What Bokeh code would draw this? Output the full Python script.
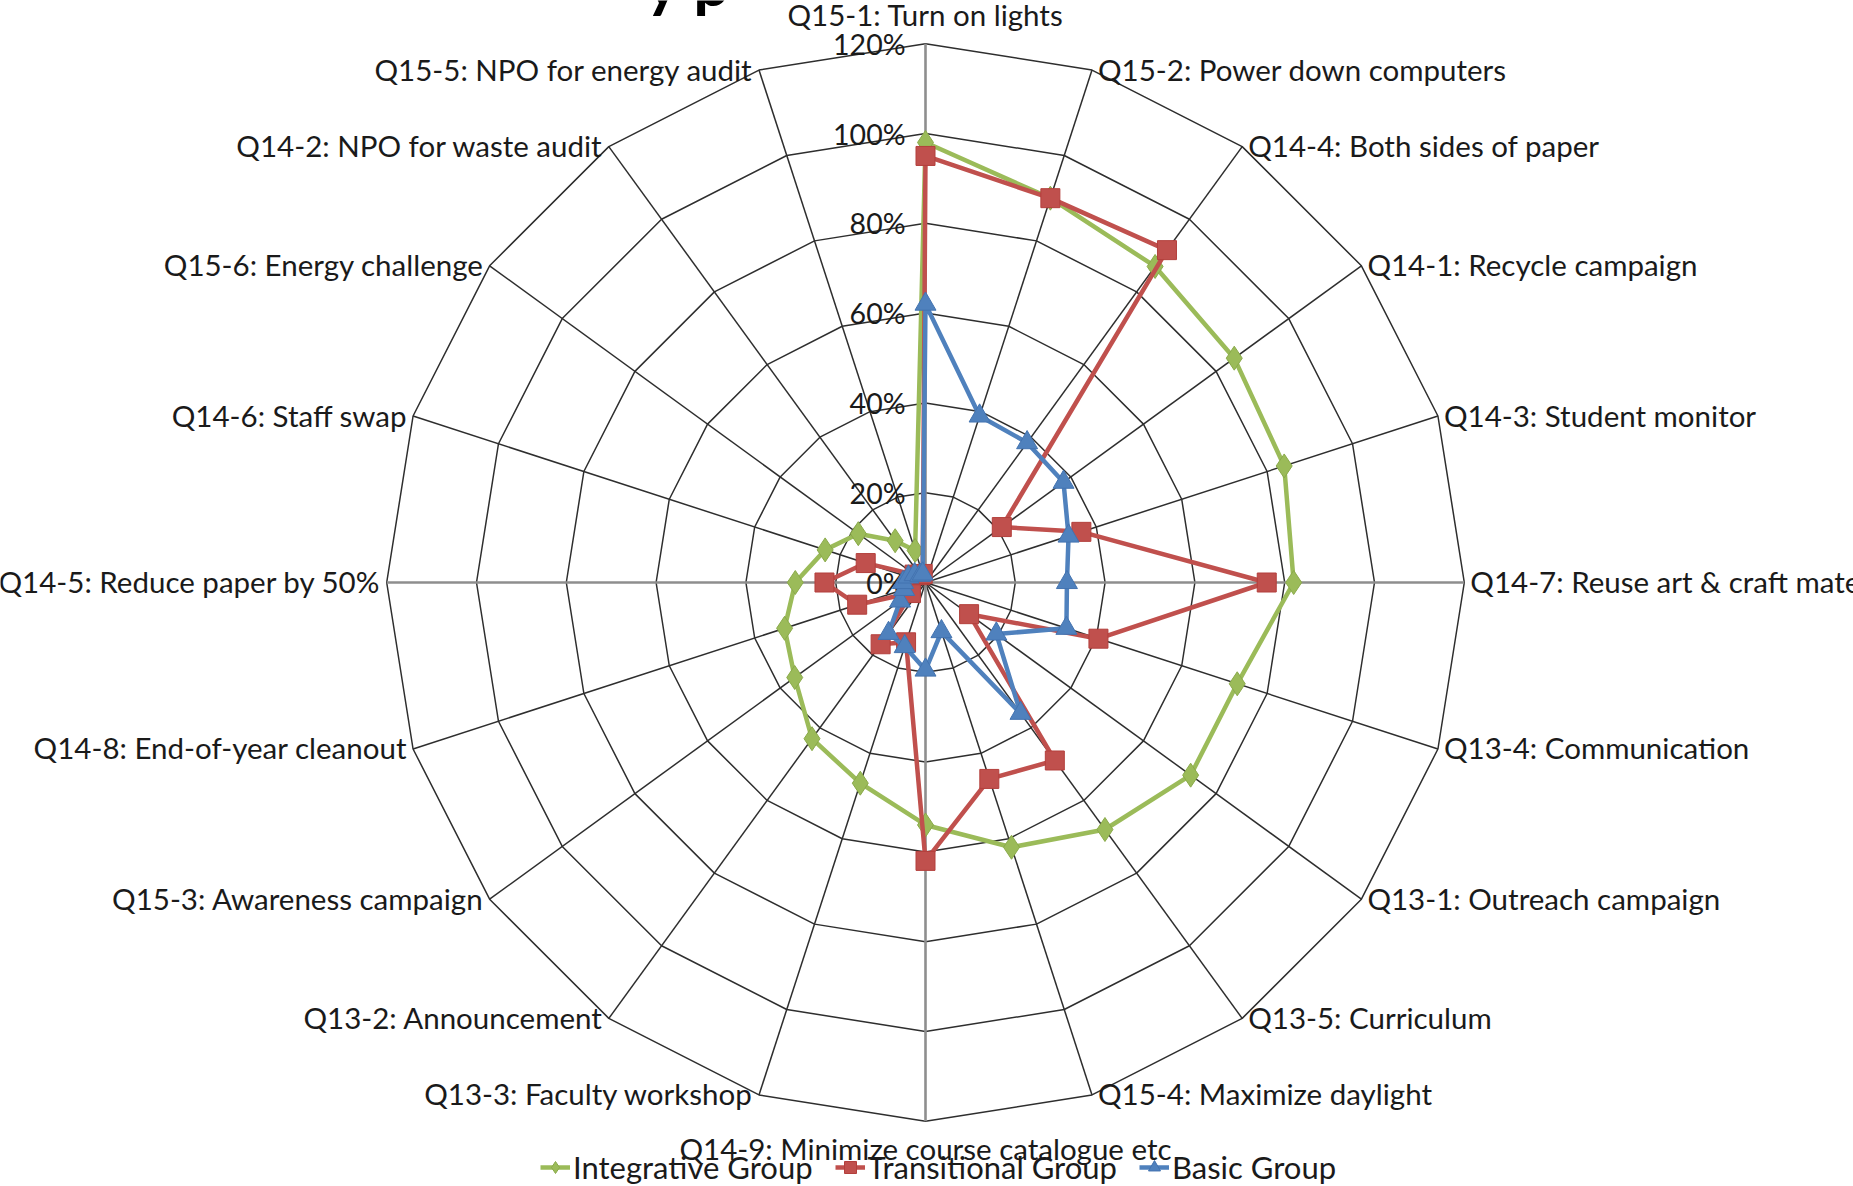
import numpy as np
from bokeh.plotting import figure
from bokeh.models import Range1d, Legend, LegendItem, ColumnDataSource
from bokeh.embed import file_html
from bokeh.resources import INLINE
from bokeh.core.properties import value

# ---------------- data ----------------
categories = [
    "Q15-1: Turn on lights",
    "Q15-2: Power down computers",
    "Q14-4: Both sides of paper",
    "Q14-1: Recycle campaign",
    "Q14-3: Student monitor",
    "Q14-7: Reuse art & craft materials",
    "Q13-4: Communication",
    "Q13-1: Outreach campaign",
    "Q13-5: Curriculum",
    "Q15-4: Maximize daylight",
    "Q14-9: Minimize course catalogue etc",
    "Q13-3: Faculty workshop",
    "Q13-2: Announcement",
    "Q15-3: Awareness campaign",
    "Q14-8: End-of-year cleanout",
    "Q14-5: Reduce paper by 50%",
    "Q14-6: Staff swap",
    "Q15-6: Energy challenge",
    "Q14-2: NPO for waste audit",
    "Q15-5: NPO for energy audit",
]
integrative = [98, 90, 87, 85, 84, 82, 73, 73, 68, 62, 54, 47, 43, 36, 33, 29, 23.5, 18.5, 11.5, 7.5]
transitional = [95, 90, 91.5, 21, 36.5, 76, 40.5, 12, 49, 46, 62, 14, 17, 4, 16, 22.5, 14, 3, 2, 2]
basic = [62, 39, 38.5, 38, 33.5, 31.5, 33, 19.5, 36, 11.5, 19.5, 15, 14, 7, 5, 5, 4, 3, 2, 2]
series_names = ["Integrative Group", "Transitional Group", "Basic Group"]
tick_values = [0, 20, 40, 60, 80, 100, 120]
tick_labels = ["0%", "20%", "40%", "60%", "80%", "100%", "120%"]
title_fragment = "y p"

# ---------------- layout ----------------
W, H = 1853, 1186
CX, CY = 925, 582          # pixel position of the chart centre
PX = 4.49                  # pixels per percentage point
RMAX = 120
FONT = "Lato"
FS_CAT = "29.5px"
FS_TICK = "28.5px"
FS_LEG = "31px"
TXT = "#1a1a1a"

p = figure(width=W, height=H,
           x_range=Range1d(-CX / PX, (W - CX) / PX),
           y_range=Range1d(-(H - CY) / PX, CY / PX),
           output_backend="svg", toolbar_location=None,
           x_axis_type=None, y_axis_type=None, min_border=0)
p.outline_line_color = None
p.background_fill_color = "white"

n = len(categories)
theta = np.pi / 2 - 2 * np.pi * np.arange(n) / n
cos_t, sin_t = np.cos(theta), np.sin(theta)

# rings
ring_xs = [list(np.append(r * cos_t, r * cos_t[0])) for r in tick_values[1:]]
ring_ys = [list(np.append(r * sin_t, r * sin_t[0])) for r in tick_values[1:]]
p.multi_line(ring_xs, ring_ys, line_color="#2e2e2e", line_width=1.5)

# spokes
axis_aligned = [i for i in range(n) if i % 5 == 0]
other = [i for i in range(n) if i % 5 != 0]
p.segment(x0=0, y0=0, x1=RMAX * cos_t[other], y1=RMAX * sin_t[other],
          line_color="#2e2e2e", line_width=1.5)
p.segment(x0=0, y0=0, x1=RMAX * cos_t[axis_aligned], y1=RMAX * sin_t[axis_aligned],
          line_color="#8e8e8e", line_width=2.6)

# tick labels
p.text(x=[0] * len(tick_values), y=tick_values, text=tick_labels,
       x_offset=-20, text_align="right", text_baseline="middle",
       text_font=value(FONT), text_font_size=FS_TICK, text_color=TXT)

# category labels
ex, ey = RMAX * cos_t, RMAX * sin_t
right = [i for i in range(1, 10)]
left = [i for i in range(11, 20)]
p.text(x=ex[right], y=ey[right], text=[categories[i] for i in right],
       x_offset=6, y_offset=-1, text_align="left", text_baseline="middle",
       text_font=value(FONT), text_font_size=FS_CAT, text_color=TXT)
p.text(x=ex[left], y=ey[left], text=[categories[i] for i in left],
       x_offset=-6, y_offset=-1, text_align="right", text_baseline="middle",
       text_font=value(FONT), text_font_size=FS_CAT, text_color=TXT)
p.text(x=[ex[0]], y=[ey[0]], text=[categories[0]],
       y_offset=-29, text_align="center", text_baseline="middle",
       text_font=value(FONT), text_font_size=FS_CAT, text_color=TXT)
p.text(x=[ex[10]], y=[ey[10]], text=[categories[10]],
       y_offset=27, text_align="center", text_baseline="middle",
       text_font=value(FONT), text_font_size=FS_CAT, text_color=TXT)

# cut-off title fragment at the very top (only its lower part shows)
p.text(x=[(645 - CX) / PX], y=[CY / PX], text=[title_fragment],
       y_offset=19, text_align="left", text_baseline="bottom",
       text_font=value(FONT), text_font_style="bold", text_font_size="64px",
       text_color="black")

# series
styles = [
    (integrative, "#9BBB59", "#8AAA4A", "diamond", 24),
    (transitional, "#C0504D", "#B33F3C", "square", 19),
    (basic, "#4F81BD", "#4373B0", "triangle", 21),
]
items = []
for name, (vals, col, edge, marker, size) in zip(series_names, styles):
    v = np.array(vals, dtype=float)
    xs, ys = v * cos_t, v * sin_t
    src = ColumnDataSource(dict(x=xs, y=ys))
    lr = p.line(list(np.append(xs, xs[0])), list(np.append(ys, ys[0])),
                line_color=col, line_width=4.5, line_join="round")
    sr = p.scatter("x", "y", source=src, marker=marker, size=size,
                   fill_color=col, line_color=edge, line_width=1)
    items.append(LegendItem(label=name, renderers=[lr, sr]))

legend = Legend(items=items, orientation="horizontal", location=(540, 0),
                label_text_font=FONT, label_text_font_size=FS_LEG,
                label_text_color=TXT,
                glyph_width=30, glyph_height=30, label_standoff=3,
                spacing=22, padding=0, margin=0,
                border_line_color=None, background_fill_alpha=0)
p.add_layout(legend)

open("out.html", "w").write(file_html(p, INLINE))
